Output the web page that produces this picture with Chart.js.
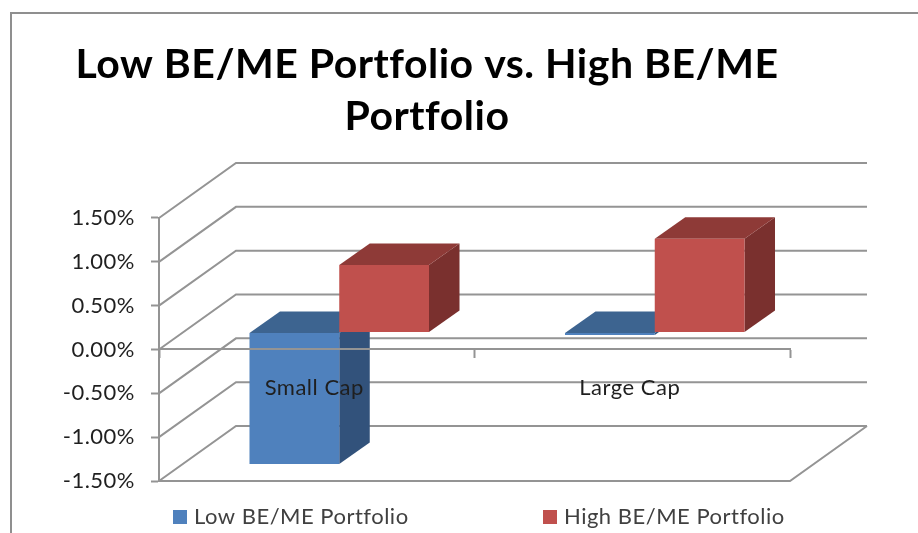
<!DOCTYPE html>
<html>
<head>
<meta charset="utf-8">
<title>Low BE/ME Portfolio vs. High BE/ME Portfolio</title>
<script src="https://cdn.jsdelivr.net/npm/chart.js@4"></script>
<style>
html, body { margin: 0; padding: 0; background: #fff; overflow: hidden; }
canvas { display: block; }
</style>
</head>
<body>
<canvas id="chart" width="918" height="533"></canvas>
<script>
const categories = ["Small Cap", "Large Cap"];
const seriesNames = ["Low BE/ME Portfolio", "High BE/ME Portfolio"];
const lowValues = [-1.5, -0.03];
const highValues = [0.77, 1.07];
const titleLines = ["Low BE/ME Portfolio vs. High BE/ME", "Portfolio"];

const gridColor = "#949494";
const fontName = "Lato, 'Open Sans', sans-serif";
// depth of the box and of the bars, in pixels
const wallDepth = { x: 77, y: 55 };
const barShift = { x: 22.5, y: 17 };
const barDepth = { x: 30.5, y: 21.5 };

const frontColors = ["#4f81bd", "#c0504d"];
const topColors = ["#3d6490", "#8e3a37"];
const sideColors = ["#32527b", "#7a302e"];

function poly(ctx, points, color) {
    ctx.fillStyle = color;
    ctx.beginPath();
    points.forEach((p, i) => i ? ctx.lineTo(p[0], p[1]) : ctx.moveTo(p[0], p[1]));
    ctx.closePath();
    ctx.fill();
}

// frame, back wall, side wall and floor go behind the bars
const wallsPlugin = {
    id: "walls",
    beforeDraw(chart) {
        // the reference text is a bit wider than Lato, also stops the tf ligature
        chart.ctx.letterSpacing = "0.5px";
    },
    beforeDatasetsDraw(chart) {
        const ctx = chart.ctx;
        const area = chart.chartArea;
        const y = chart.scales.y;
        ctx.save();
        ctx.strokeStyle = gridColor;
        ctx.lineWidth = 2;
        ctx.beginPath();
        y.ticks.forEach(t => {
            const py = y.getPixelForValue(t.value);
            ctx.moveTo(area.left, py);
            ctx.lineTo(area.left + wallDepth.x, py - wallDepth.y);
            ctx.lineTo(area.right + wallDepth.x, py - wallDepth.y);
        });
        ctx.moveTo(area.right + wallDepth.x, area.bottom - wallDepth.y);
        ctx.lineTo(area.right, area.bottom);
        ctx.lineTo(area.left, area.bottom);
        ctx.stroke();

        ctx.strokeStyle = "#8f8f8f";
        ctx.lineWidth = 2;
        ctx.beginPath();
        ctx.moveTo(11, 533);
        ctx.lineTo(11, 13);
        ctx.lineTo(918, 13);
        ctx.stroke();
        ctx.restore();
    }
};

// moves the bars into the box and draws their top and side faces
const barsPlugin = {
    id: "bars3d",
    beforeDatasetsDraw(chart) {
        const ctx = chart.ctx;
        ctx.save();
        ctx.translate(barShift.x, -barShift.y);
        chart.data.datasets.forEach((ds, i) => {
            chart.getDatasetMeta(i).data.forEach(bar => {
                const left = bar.x - bar.width / 2;
                const right = bar.x + bar.width / 2;
                const top = Math.min(bar.y, bar.base);
                const bottom = Math.max(bar.y, bar.base);
                const dx = barDepth.x, dy = barDepth.y;
                poly(ctx, [[right, top], [right + dx, top - dy], [right + dx, bottom - dy], [right, bottom]], sideColors[i]);
                poly(ctx, [[left, top], [left + dx, top - dy], [right + dx, top - dy], [right, top]], topColors[i]);
            });
        });
    },
    afterDatasetsDraw(chart) {
        chart.ctx.restore();
    }
};

const legendPlugin = {
    id: "wideLegend",
    afterDraw(chart) {
        const ctx = chart.ctx;
        const boxX = [173, 543];
        const textX = [194, 564];
        ctx.save();
        ctx.font = "22px " + fontName;
        ctx.textBaseline = "middle";
        seriesNames.forEach((name, i) => {
            ctx.fillStyle = frontColors[i];
            ctx.fillRect(boxX[i], 510, 14, 14);
            ctx.fillStyle = "#404040";
            ctx.fillText(name, textX[i], 517);
        });
        ctx.restore();
    }
};

new Chart(document.getElementById("chart"), {
    type: "bar",
    data: {
        labels: categories,
        datasets: [
            { label: seriesNames[0], data: lowValues, backgroundColor: frontColors[0] },
            { label: seriesNames[1], data: highValues, backgroundColor: frontColors[1] }
        ]
    },
    options: {
        responsive: false,
        animation: false,
        layout: { padding: { left: 64, right: 128, top: 39, bottom: 52 } },
        datasets: { bar: { categoryPercentage: 0.569, barPercentage: 1, clip: false } },
        plugins: {
            legend: { display: false },
            tooltip: { enabled: false },
            title: {
                display: true,
                text: titleLines,
                color: "#000",
                font: { family: fontName, size: 41, weight: "bold", lineHeight: 1.268 },
                padding: { top: 0, bottom: 75 }
            }
        },
        scales: {
            x: {
                position: { y: 0 },
                grid: { drawOnChartArea: false, tickLength: 8, tickColor: gridColor, tickWidth: 2, offset: true },
                border: { color: gridColor, width: 2, z: 1 },
                ticks: { z: 1, color: "#1f1f1f", padding: 17, labelOffset: -2.5, maxRotation: 0, font: { family: fontName, size: 22 } }
            },
            y: {
                min: -1.5,
                max: 1.5,
                afterFit(scale) { scale.width = 95; },
                grid: { drawOnChartArea: false, tickLength: 8, tickColor: gridColor, tickWidth: 2 },
                border: { color: gridColor, width: 2 },
                ticks: {
                    stepSize: 0.5,
                    padding: 16,
                    color: "#1f1f1f",
                    font: { family: fontName, size: 22 },
                    callback: v => v.toFixed(2) + "%"
                }
            }
        }
    },
    plugins: [wallsPlugin, barsPlugin, legendPlugin]
});
</script>
</body>
</html>
